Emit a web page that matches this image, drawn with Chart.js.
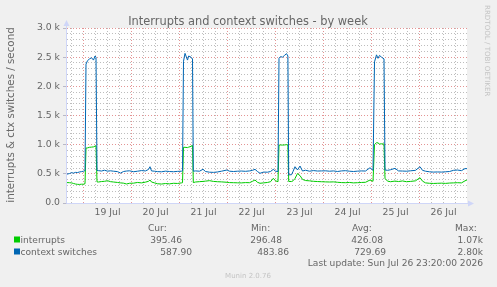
<!DOCTYPE html>
<html>
<head>
<meta charset="utf-8">
<script src="https://cdn.jsdelivr.net/npm/chart.js@4.4.1/dist/chart.umd.min.js"></script>
<style>
  html, body { margin: 0; padding: 0; background: #f0f0f0; }
  #wrap { width: 497px; height: 287px; }
</style>
</head>
<body>
<div id="wrap"><canvas id="chart" width="497" height="287"></canvas></div>
<script>
// Time axis: hours since Jul 18 00:00
const hours = [
  15.75, 17, 18, 19, 20, 21, 22, 23, 24, 24.75,
  25.25, 26, 27, 28, 29, 29.75, 30.25, 30.75,
  31.5, 33, 34.5, 36, 37.5, 39, 41, 42.5, 44, 45.5, 47, 49, 51, 53, 55, 56.5, 57.25, 58,
  59.5, 61, 63, 65, 67, 69, 71, 73, 73.5,
  74, 74.75, 76, 76.6, 77.75, 78.5, 78.9,
  80, 82, 83.75, 85, 87, 89, 91, 93, 95.75, 97, 99, 101, 103, 105, 107, 108.5, 109.75,
  111, 112.25, 114, 116, 117.5, 118.9, 120, 121.25,
  121.75, 122.5, 123.5, 124.5, 125.5, 126.2, 126.6,
  128, 128.75, 129.75, 131, 132.25, 133.5, 135, 137, 139, 141, 143, 145, 147, 149, 151,
  153, 155, 157, 159, 161, 163, 165, 167.25, 168.75,
  169.5, 170.5, 171.25, 172, 173, 174.25, 174.75,
  176, 177.5, 179.75, 181.5, 183.5, 185.5, 187.5, 190, 192.25, 193.5, 195, 197, 199, 201,
  203, 205, 207, 209, 211, 213, 214.75, 215.75
];
const interrupts = [
  350, 348, 345, 335, 325, 320, 318, 322, 322, 330,
  940, 945, 955, 958, 962, 975, 978, 362,
  360, 368, 372, 382, 366, 360, 352, 345, 340, 326, 338, 340, 352, 345, 358, 372, 394, 360,
  345, 330, 325, 334, 328, 338, 335, 345, 348,
  955, 955, 950, 958, 970, 988, 350,
  360, 366, 370, 375, 383, 370, 365, 362, 355, 350, 348, 346, 345, 350, 348, 372, 394,
  355, 338, 345, 352, 365, 423, 380, 365,
  990, 995, 993, 995, 1000, 995, 370,
  368, 380, 420, 505, 470, 405, 385, 380, 372, 368, 365, 362, 360, 362, 355,
  350, 348, 352, 345, 348, 352, 355, 394, 372,
  1000, 1035, 1030, 1010, 1015, 1010, 423,
  375, 365, 376, 368, 378, 365, 370, 380, 434, 375, 345, 338, 335, 338,
  340, 336, 342, 345, 348, 345, 380, 395
];
const ctxSwitches = [
  495, 505, 520, 512, 525, 522, 532, 538, 545, 555,
  2380, 2440, 2470, 2490, 2450, 2520, 2500, 560,
  555, 548, 562, 546, 552, 545, 538, 512, 540, 548, 552, 536, 545, 556, 550, 575, 622, 550,
  545, 538, 535, 546, 540, 536, 542, 545, 550,
  2430, 2565, 2450, 2520, 2500, 2470, 545,
  550, 545, 578, 540, 528, 525, 532, 545, 566, 545, 540, 545, 548, 543, 550, 560, 577,
  540, 509, 530, 528, 540, 577, 545, 540,
  2480, 2510, 2500, 2530, 2560, 2520, 482,
  485, 540, 622, 566, 634, 548, 562, 545, 556, 548, 550, 552, 545, 550, 540,
  550, 554, 545, 540, 546, 550, 548, 605, 560,
  2420, 2540, 2480, 2530, 2500, 2470, 566,
  560, 570, 594, 550, 548, 545, 552, 560, 622, 560, 545, 535, 530, 532,
  530, 535, 540, 560, 565, 555, 590, 588
];

const dayLabels = ['19 Jul', '20 Jul', '21 Jul', '22 Jul', '23 Jul', '24 Jul', '25 Jul', '26 Jul'];
const yTickLabels = ['0.0', '0.5 k', '1.0 k', '1.5 k', '2.0 k', '2.5 k', '3.0 k'];
const seriesNames = ['interrupts', 'context switches'];
const statHeaders = ['Cur:', 'Min:', 'Avg:', 'Max:'];
const interruptStats = ['395.46', '296.48', '426.08', '1.07k'];
const ctxStats = ['587.90', '483.86', '729.69', '2.80k'];
const lastUpdate = 'Last update: Sun Jul 26 23:20:00 2026';

const GREEN = '#00CC00';
const BLUE = '#0066B3';
const FONT = '"DejaVu Sans", sans-serif';
const TEXT = '#666666';
const AXIS = '#CFD6F8';
const MAJOR = '#e39494';
const MINOR = '#bdbdbd';

function fnt(size) { return size + 'px ' + FONT; }

const decor = {
  id: 'decor',
  beforeDraw(chart) {
    const { ctx, chartArea: a } = chart;
    ctx.save();
    ctx.fillStyle = '#f0f0f0';
    ctx.fillRect(0, 0, chart.width, chart.height);
    ctx.fillStyle = '#ffffff';
    ctx.fillRect(a.left, a.top, a.right - a.left, a.bottom - a.top);
    ctx.restore();
  },
  beforeDatasetsDraw(chart) {
    const { ctx, chartArea: a } = chart;
    const x0 = a.left - 0.5, y0 = a.bottom + 0.5;
    ctx.save();
    ctx.strokeStyle = AXIS;
    ctx.fillStyle = AXIS;
    ctx.lineWidth = 1;
    ctx.beginPath();
    ctx.moveTo(x0, y0); ctx.lineTo(x0, a.top - 3);
    ctx.moveTo(x0, y0); ctx.lineTo(a.right + 2, y0);
    ctx.stroke();
    // arrows
    ctx.beginPath();
    ctx.moveTo(x0, a.top - 8); ctx.lineTo(x0 - 3, a.top - 2); ctx.lineTo(x0 + 3, a.top - 2);
    ctx.closePath(); ctx.fill();
    ctx.beginPath();
    ctx.moveTo(a.right + 7, y0); ctx.lineTo(a.right + 1, y0 - 3); ctx.lineTo(a.right + 1, y0 + 3);
    ctx.closePath(); ctx.fill();
    ctx.restore();
  },
  afterDraw(chart) {
    const { ctx } = chart;
    ctx.save();
    ctx.fillStyle = TEXT;

    // title
    ctx.font = fnt(11.4);
    ctx.textAlign = 'center';
    ctx.textBaseline = 'alphabetic';
    ctx.fillText('Interrupts and context switches - by week', 248, 25);

    // y-axis title
    ctx.save();
    ctx.translate(11.5, 115);
    ctx.rotate(-Math.PI / 2);
    ctx.font = fnt(10.3);
    ctx.textBaseline = 'middle';
    ctx.fillText('interrupts & ctx switches / second', 0, 0);
    ctx.restore();

    // legend
    ctx.font = fnt(9.1);
    ctx.textBaseline = 'alphabetic';
    ctx.textAlign = 'left';
    const headX = [148, 251, 352, 455];
    statHeaders.forEach((h, i) => ctx.fillText(h, headX[i], 230.5));

    const rows = [
      { name: seriesNames[0], color: GREEN, stats: interruptStats, y: 242.5, ends: [182, 282, 383, 483] },
      { name: seriesNames[1], color: BLUE, stats: ctxStats, y: 254.5, ends: [192, 289, 386, 483] }
    ];
    rows.forEach(r => {
      ctx.fillStyle = r.color;
      ctx.fillRect(14, r.y - 6, 6, 6);
      ctx.fillStyle = TEXT;
      ctx.textAlign = 'left';
      ctx.fillText(r.name, 20.5, r.y);
      ctx.textAlign = 'right';
      r.stats.forEach((s, i) => ctx.fillText(s, r.ends[i], r.y));
    });
    ctx.textAlign = 'right';
    ctx.fillText(lastUpdate, 483, 266);

    // footer + watermark
    ctx.fillStyle = '#c4c4c4';
    ctx.font = fnt(7);
    ctx.textAlign = 'center';
    ctx.fillText('Munin 2.0.76', 248, 277.5);

    ctx.save();
    ctx.translate(487, 5);
    ctx.rotate(Math.PI / 2);
    ctx.font = fnt(7.1);
    ctx.textAlign = 'left';
    ctx.textBaseline = 'middle';
    ctx.fillText('RRDTOOL / TOBI OETIKER', 0, 0);
    ctx.restore();

    ctx.restore();
  }
};

const toPoints = vals => hours.map((h, i) => ({ x: h, y: vals[i] }));

new Chart(document.getElementById('chart'), {
  type: 'line',
  data: {
    datasets: [
      { label: seriesNames[0], data: toPoints(interrupts), borderColor: GREEN, order: 1 },
      { label: seriesNames[1], data: toPoints(ctxSwitches), borderColor: BLUE, order: 0 }
    ]
  },
  options: {
    responsive: false,
    animation: false,
    layout: { padding: { left: 0, top: 28, right: 30, bottom: 64 } },
    elements: {
      point: { radius: 0 },
      line: { borderWidth: 1, tension: 0, fill: false }
    },
    plugins: { legend: { display: false }, tooltip: { enabled: false }, title: { display: false } },
    scales: {
      x: {
        type: 'linear',
        min: 15.75,
        max: 215.75,
        afterBuildTicks: s => {
          const t = [];
          for (let h = 18; h <= 210; h += 6) t.push({ value: h });
          s.ticks = t;
        },
        afterFit: s => { s.height = 20; },
        ticks: {
          autoSkip: false,
          maxRotation: 0,
          padding: 4,
          color: TEXT,
          font: { family: FONT, size: 9.3 },
          callback: v => (v % 24 === 12 ? dayLabels[(v - 36) / 24] : '')
        },
        grid: {
          drawTicks: false,
          color: c => (c.tick && c.tick.value % 24 === 0 ? MAJOR : MINOR)
        },
        border: { display: false, dash: [1, 2] }
      },
      y: {
        min: 0,
        max: 3000,
        afterBuildTicks: s => {
          const t = [];
          for (let v = 0; v <= 3000; v += 100) t.push({ value: v });
          s.ticks = t;
        },
        afterFit: s => { s.width = 67; },
        ticks: {
          autoSkip: false,
          padding: 3,
          color: TEXT,
          font: { family: FONT, size: 9.3 },
          callback: v => (v % 500 === 0 ? yTickLabels[v / 500] : '')
        },
        grid: {
          drawTicks: true,
          tickLength: 4,
          tickColor: c => (c.tick && c.tick.value % 500 === 0 ? '#b8b8c8' : 'rgba(0,0,0,0)'),
          color: c => (c.tick && c.tick.value % 500 === 0 ? MAJOR : MINOR)
        },
        border: { display: false, dash: [1, 2] }
      }
    }
  },
  plugins: [decor]
});
</script>
</body>
</html>
